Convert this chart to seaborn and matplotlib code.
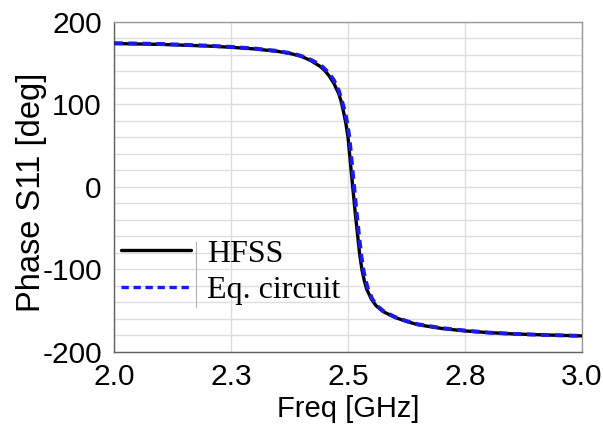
import numpy as np
import pandas as pd
import matplotlib
matplotlib.use("Agg")
import matplotlib.pyplot as plt
import seaborn as sns
from matplotlib.lines import Line2D

# ---- data ----
freq_hfss = [2.00, 2.05, 2.10, 2.15, 2.20, 2.25, 2.30, 2.35, 2.38, 2.40, 2.42, 2.44,
             2.45, 2.46, 2.47, 2.48, 2.485, 2.49, 2.495, 2.50, 2.505, 2.51, 2.515,
             2.52, 2.525, 2.53, 2.535, 2.54, 2.55, 2.56, 2.575, 2.60, 2.625, 2.65,
             2.70, 2.75, 2.80, 2.85, 2.90, 2.95, 3.00]
phase_hfss = [173.5, 173.0, 172.5, 171.5, 170.5, 169.0, 167.0, 164.0, 161.0, 158.0, 153.0, 146.0,
              141.0, 134.0, 125.0, 113.0, 104.0, 92.0, 78.0, 60.0, 30.0, 0.0, -29.0,
              -56.0, -82.0, -101.0, -114.0, -124.0, -136.0, -144.0, -151.0, -158.0, -163.0, -167.0,
              -171.5, -174.5, -176.5, -178.0, -179.0, -179.8, -180.5]

freq_eq = [2.00, 2.05, 2.10, 2.15, 2.20, 2.25, 2.30, 2.35, 2.38, 2.40, 2.42, 2.44,
           2.45, 2.46, 2.47, 2.48, 2.487, 2.493, 2.498, 2.503, 2.508, 2.513, 2.518,
           2.523, 2.528, 2.533, 2.538, 2.543, 2.552, 2.562, 2.577, 2.60, 2.625, 2.65,
           2.70, 2.75, 2.80, 2.85, 2.90, 2.95, 3.00]
phase_eq = [174.0, 173.5, 173.0, 172.0, 171.0, 169.5, 167.5, 164.5, 161.5, 158.5, 154.0, 148.0,
            143.0, 137.0, 129.0, 117.0, 104.0, 92.0, 78.0, 60.0, 30.0, 0.0, -29.0,
            -56.0, -82.0, -101.0, -114.0, -124.0, -136.0, -144.0, -151.0, -157.5, -162.5, -166.5,
            -171.0, -174.0, -176.5, -178.0, -179.0, -179.8, -180.5]

series_names = ["HFSS", "Eq. circuit"]
x_ticks = [2.0, 2.25, 2.5, 2.75, 3.0]
x_tick_labels = ["2.0", "2.3", "2.5", "2.8", "3.0"]
y_ticks = [-200, -100, 0, 100, 200]

df = pd.concat([
    pd.DataFrame({"freq": freq_hfss, "phase": phase_hfss, "series": series_names[0]}),
    pd.DataFrame({"freq": freq_eq, "phase": phase_eq, "series": series_names[1]}),
])

sns.set_style("white")
plt.rcParams["font.family"] = ["Liberation Sans", "DejaVu Sans"]
plt.rcParams["axes.unicode_minus"] = False
plt.rcParams["text.color"] = "black"
plt.rcParams["axes.labelcolor"] = "black"
plt.rcParams["xtick.color"] = "black"
plt.rcParams["ytick.color"] = "black"

fig = plt.figure(figsize=(6.03, 4.25), dpi=100)
ax = fig.add_axes([0.1896, 0.1718, 0.9647 - 0.1896, 0.949 - 0.1718])

sns.lineplot(data=df, x="freq", y="phase", hue="series", style="series",
             palette={"HFSS": "black", "Eq. circuit": "#1a1aee"},
             dashes={"HFSS": "", "Eq. circuit": (2.2, 1.4)},
             sort=False, estimator=None, ax=ax, legend=False)
lines = ax.get_lines()
lines[0].set_linewidth(2.4)
lines[0].set_zorder(3)
lines[1].set_linewidth(2.8)
lines[1].set_zorder(4)

ax.set_xlim(2.0, 3.0)
ax.set_ylim(-200, 200)
ax.set_xticks(x_ticks)
ax.set_xticklabels(x_tick_labels)
ax.set_xticks(np.arange(2.0, 3.0001, 0.05), minor=True)
ax.set_yticks(y_ticks)
ax.set_yticks(np.arange(-200, 201, 20), minor=True)

ax.grid(True, which="major", color="#dddddd", linewidth=1.0)
ax.grid(True, which="minor", axis="y", color="#dddddd", linewidth=1.0)
ax.set_axisbelow(True)

ax.tick_params(axis="both", which="major", labelsize=21.5, length=6, width=1,
               color="#606060", labelcolor="black", pad=2)
ax.tick_params(axis="x", which="minor", direction="in", length=3, color="#606060")
ax.tick_params(axis="y", which="minor", direction="out", length=3, color="#606060")
ax.tick_params(axis="y", which="major", pad=3)

for s in ["left", "bottom"]:
    ax.spines[s].set_color("#606060")
    ax.spines[s].set_linewidth(1.0)
for s in ["top", "right"]:
    ax.spines[s].set_color("#9a9a9a")
    ax.spines[s].set_linewidth(1.0)

ax.set_xlabel("Freq [GHz]", fontsize=21, labelpad=3, color="black")
ax.set_ylabel("Phase S11 [deg]", fontsize=23.5, color="black")
ax.yaxis.set_label_coords(-0.144, 0.484)

handles = [Line2D([], [], color="black", linewidth=2.4),
           Line2D([], [], color="#1a1aee", linewidth=2.4, dashes=(2.2, 1.4))]
leg = ax.legend(handles, series_names, loc="center left", bbox_to_anchor=(0.0143, 0.242),
                frameon=False, borderaxespad=0, borderpad=0, handlelength=2.2,
                handletextpad=0.5, labelspacing=0.22,
                prop={"family": "Liberation Serif", "size": 23})
for t in leg.get_texts():
    t.set_color("black")

fig.add_artist(Line2D([196 / 603, 196 / 603], [1 - 242 / 425, 1 - 307 / 425],
                      color="#b0b0b0", linewidth=0.8))

fig.savefig("out.png", dpi=100)
